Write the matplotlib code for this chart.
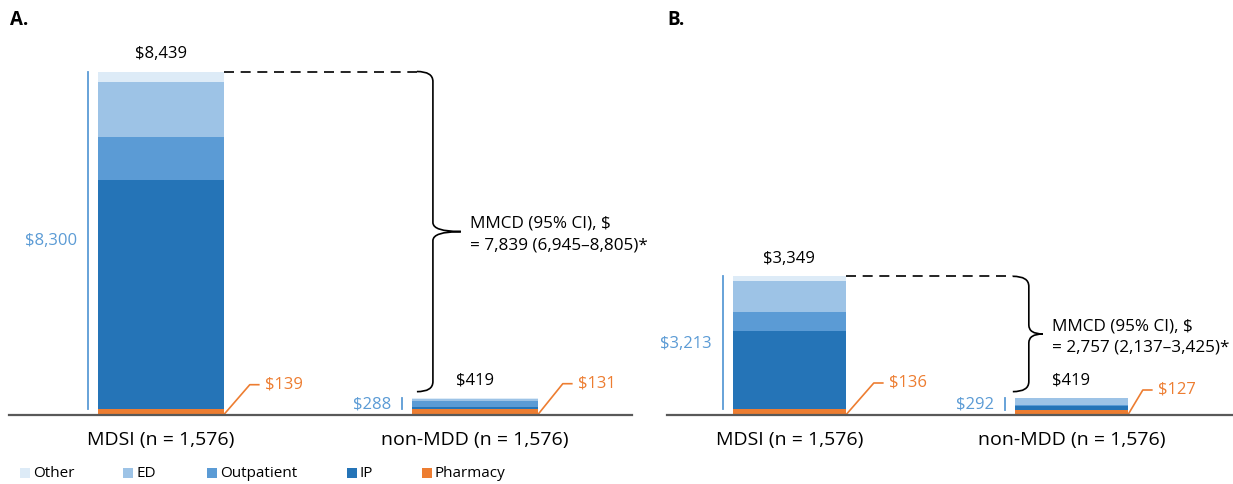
import numpy as np
import matplotlib
matplotlib.use('Agg')
import matplotlib.pyplot as plt
from matplotlib.path import Path
from matplotlib.patches import PathPatch, Rectangle

plt.rcParams['font.family'] = ['Open Sans', 'DejaVu Sans']

# categories
groups = ['MDSI (n = 1,576)', 'non-MDD (n = 1,576)']
components = ['Other', 'ED', 'Outpatient', 'IP', 'Pharmacy']
colors = ['#ddebf7', '#9dc3e6', '#5b9bd5', '#2574b7', '#ed7d31']

# panel A values ($)
a_pharmacy = [139, 131]
a_ip = [5624, 63]
a_outpatient = [1059, 145]
a_ed = [1355, 55]
a_other = [262, 25]
a_total = [8439, 419]
a_medical = [8300, 288]
a_mmcd = '7,839 (6,945\u20138,805)*'

# panel B values ($)
b_pharmacy = [136, 127]
b_ip = [1900, 97]
b_outpatient = [459, 20]
b_ed = [742, 160]
b_other = [112, 15]
b_total = [3349, 419]
b_medical = [3213, 292]
b_mmcd = '2,757 (2,137\u20133,425)*'

BLUE_TXT = '#5b9bd5'
ORANGE = '#ed7d31'
W, H = 1233, 485

fig = plt.figure(figsize=(W / 100, H / 100), dpi=100)


def to_data(ax, x, y, dx=0, dy=0):
    # data point shifted by dx, dy pixels (dy up)
    p = ax.transData.transform((x, y))
    return ax.transData.inverted().transform((p[0] + dx, p[1] + dy))


def draw_panel(rect, xlim, ymax, letter, letter_x, pharm, ip, outp, ed, other,
               total, medical, mmcd, brace_x, tip, leaders):
    ax = fig.add_axes(rect)
    ax.set_xlim(*xlim)
    ax.set_ylim(0, ymax)
    x = np.arange(len(groups))
    bw = 0.4
    # stack bottom to top: Pharmacy, IP, Outpatient, ED, Other
    stack = [pharm, ip, outp, ed, other]
    cols = [colors[4], colors[3], colors[2], colors[1], colors[0]]
    bottom = np.zeros(len(groups))
    for vals, c in zip(stack, cols):
        ax.bar(x, vals, bw, bottom=bottom, color=c, linewidth=0, zorder=2)
        bottom += np.array(vals)

    for s in ['top', 'left', 'right']:
        ax.spines[s].set_visible(False)
    ax.spines['bottom'].set_color('#595959')
    ax.spines['bottom'].set_linewidth(1.6)
    ax.set_yticks([])
    ax.set_xticks(x, groups)
    ax.tick_params(axis='x', length=0, pad=11, labelsize=14)

    for i in range(len(groups)):
        left = x[i] - bw / 2
        right = x[i] + bw / 2
        # total label
        ax.annotate(f'${total[i]:,}', (x[i], total[i]), xytext=(0, 14),
                    textcoords='offset pixels', ha='center', va='baseline',
                    fontsize=12, color='black')
        # medical line
        p0 = to_data(ax, left, pharm[i], dx=-10)
        ax.plot([p0[0], p0[0]], [pharm[i], pharm[i] + medical[i]],
                color=BLUE_TXT, lw=1.3, clip_on=False)
        ax.annotate(f'${medical[i]:,}', (p0[0], pharm[i] + medical[i] / 2),
                    xytext=(-11, 0), textcoords='offset pixels', ha='right',
                    va='center', fontsize=12, color=BLUE_TXT)
        # pharmacy leader
        dx, dy = leaders[i]
        q1 = to_data(ax, right, 0, dx=dx, dy=dy)
        q2 = to_data(ax, right, 0, dx=dx + 9, dy=dy)
        ax.plot([right, q1[0], q2[0]], [0, q1[1], q2[1]], color=ORANGE,
                lw=1.2, clip_on=False)
        ax.annotate(f'${pharm[i]:,}', (q2[0], q2[1]), xytext=(6, 1),
                    textcoords='offset pixels', ha='left', va='center',
                    fontsize=12, color=ORANGE)

    # brace from top of MDSI bar down to just above non-MDD bar
    t = ax.transData
    xb = t.transform((brace_x, 0))[0]
    yt = t.transform((0, total[0]))[1]
    yb = t.transform((0, total[1]))[1] + 6
    ym = (yt + yb) / 2
    w, h, th = 16, 10, 9
    xr = t.transform((x[0] + bw / 2, 0))[0]
    d0 = t.inverted().transform((xr, yt))
    d1 = t.inverted().transform((xb - w, yt))
    ax.plot([d0[0], d1[0]], [d0[1], d1[1]], color='black', lw=1.2,
            dashes=(6, 4), clip_on=False)
    verts = [(xb - w, yt), (xb, yt), (xb, yt - h), (xb, ym + th), (xb, ym),
             (xb + tip, ym), (xb + tip, ym), (xb, ym), (xb, ym - th),
             (xb, yb + h), (xb, yb), (xb - w, yb)]
    codes = [Path.MOVETO, Path.CURVE3, Path.CURVE3, Path.LINETO, Path.CURVE3,
             Path.CURVE3, Path.MOVETO, Path.CURVE3, Path.CURVE3, Path.LINETO,
             Path.CURVE3, Path.CURVE3]
    verts = t.inverted().transform(np.array(verts))
    ax.add_patch(PathPatch(Path(verts, codes), fill=False, edgecolor='black',
                           lw=1.2, clip_on=False))
    tp = t.inverted().transform((xb + tip + 9, ym - 2))
    ax.text(tp[0], tp[1], 'MMCD (95% CI), $\n= ' + mmcd, ha='left',
            va='center', fontsize=12.3, linespacing=1.45)

    fig.text(letter_x / W, 1 - 20 / H, letter, ha='left', va='center',
             fontsize=13.5, fontweight='bold')
    return ax


base_a, base_b = 415.7, 416.0
draw_panel([9 / W, 1 - base_a / H, 623 / W, base_a / H], (-0.484, 1.5),
           base_a / ((base_a - 72.5) / 8439), 'A.', 10,
           a_pharmacy, a_ip, a_outpatient, a_ed, a_other, a_total, a_medical,
           a_mmcd, 0.866, 28, [(26, 30), (25, 31)])
draw_panel([667 / W, 1 - base_b / H, 566 / W, base_b / H], (-0.434, 1.573),
           base_b / ((base_b - 277.3) / 3349), 'B.', 667,
           b_pharmacy, b_ip, b_outpatient, b_ed, b_other, b_total, b_medical,
           b_mmcd, 0.849, 14, [(28, 32), (15, 25)])

# legend
leg_x = [20, 123, 207, 347, 422]
for lx, name, c in zip(leg_x, components, colors):
    fig.patches.append(Rectangle((lx / W, 1 - 479 / H), 10 / W, 10 / H,
                                 transform=fig.transFigure, color=c,
                                 linewidth=0))
    fig.text((lx + 13) / W, 1 - 474 / H, name, ha='left', va='center',
             fontsize=11)

fig.savefig('out.png', dpi=100)
